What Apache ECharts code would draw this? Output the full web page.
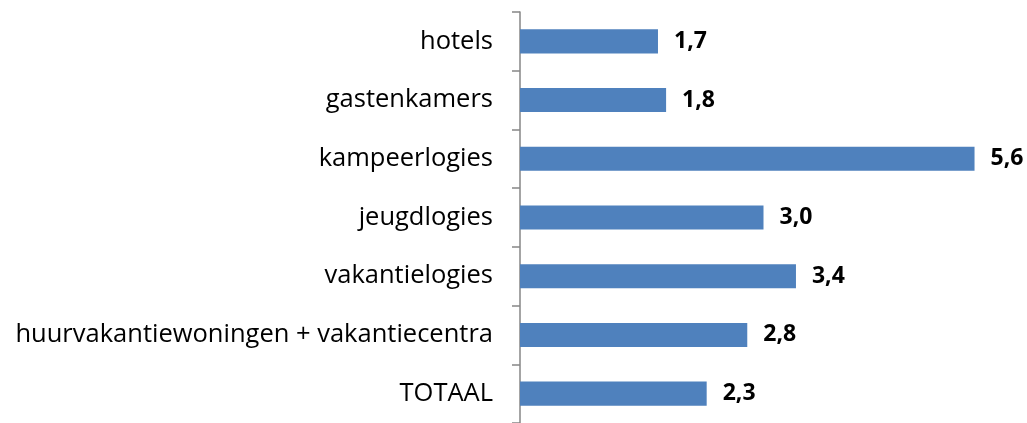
<!DOCTYPE html>
<html>
<head>
<meta charset="utf-8">
<script src="https://cdn.jsdelivr.net/npm/echarts@6/dist/echarts.min.js"></script>
<style>
  html, body { margin: 0; padding: 0; background: #fff; }
  #chart { width: 1027px; height: 423px; }
</style>
</head>
<body>
<div id="chart"></div>
<script>
// categories top to bottom as in the picture
const categories = ['hotels', 'gastenkamers', 'kampeerlogies', 'jeugdlogies', 'vakantielogies', 'huurvakantiewoningen + vakantiecentra', 'TOTAAL'];
const values = [1.7, 1.8, 5.6, 3.0, 3.4, 2.8, 2.3];

const chart = echarts.init(document.getElementById('chart'));

chart.setOption({
  animation: false,
  grid: {
    left: 520,
    right: 20,
    top: 12,
    bottom: -2
  },
  xAxis: {
    type: 'value',
    min: 0,
    max: 6,
    show: false
  },
  yAxis: {
    type: 'category',
    inverse: true,
    data: categories,
    axisLine: { lineStyle: { color: '#868686', width: 1.5 } },
    axisTick: { show: true, length: 8, lineStyle: { color: '#868686', width: 1.5 } },
    axisLabel: {
      color: '#000',
      fontFamily: 'Open Sans',
      fontSize: 25.5,
      margin: 27
    }
  },
  series: [
    {
      type: 'bar',
      data: values,
      barCategoryGap: '59%',
      itemStyle: { color: '#4F81BD' },
      label: {
        show: true,
        position: 'right',
        distance: 16,
        color: '#000',
        fontFamily: 'Open Sans',
        fontWeight: 'bold',
        fontSize: 23,
        formatter: p => p.value.toFixed(1).replace('.', ',')
      }
    }
  ]
});
</script>
</body>
</html>
